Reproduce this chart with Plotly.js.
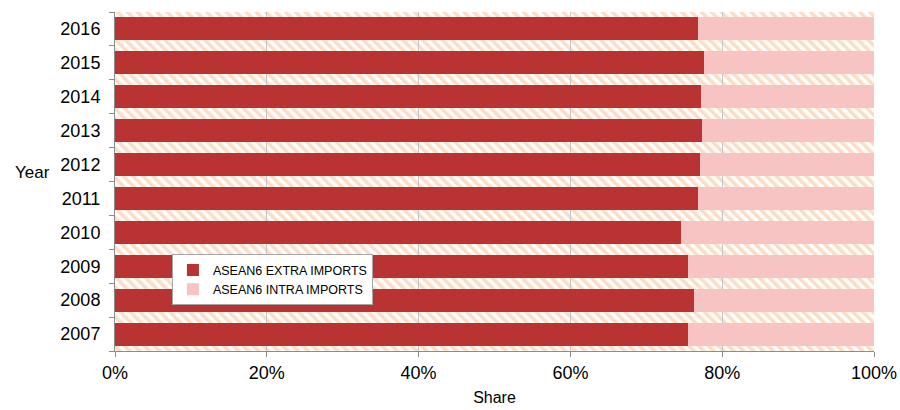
<!DOCTYPE html>
<html>
<head>
<meta charset="utf-8">
<script src="https://cdn.plot.ly/plotly-3.0.1.min.js"></script>
<style>html,body{margin:0;padding:0;background:#fff;}#chart{width:900px;height:410px;}</style>
</head>
<body>
<div id="chart"></div>
<script>
const years = ['2007','2008','2009','2010','2011','2012','2013','2014','2015','2016'];
const extraShare = [75.5, 76.3, 75.5, 74.6, 76.8, 77.1, 77.3, 77.2, 77.6, 76.8];
const intraShare = extraShare.map(v => +(100 - v).toFixed(1));
const seriesNames = ['ASEAN6 EXTRA IMPORTS', 'ASEAN6 INTRA IMPORTS'];
const xTickVals = [0, 20, 40, 60, 80, 100];
const xTickText = ['0%', '20%', '40%', '60%', '80%', '100%'];

const font = 'Arial, "Liberation Sans", sans-serif';

// decorative hatched plot-area background
const hatchSvg = '<svg xmlns="http://www.w3.org/2000/svg" width="759" height="339">' +
  '<defs><pattern id="p" width="7" height="7" patternUnits="userSpaceOnUse" patternTransform="rotate(-45)">' +
  '<rect width="7" height="7" fill="#ffffff"/><rect width="3.5" height="7" fill="#fcdcc4"/></pattern></defs>' +
  '<rect width="759" height="339" fill="url(#p)"/></svg>';
const hatchUri = 'data:image/svg+xml;charset=utf-8,' + encodeURIComponent(hatchSvg);

const traces = [
  {type:'bar', orientation:'h', name: seriesNames[0], y: years, x: extraShare,
   marker:{color:'#b83331', line:{width:0}}, hoverinfo:'x+y'},
  {type:'bar', orientation:'h', name: seriesNames[1], y: years, x: intraShare,
   marker:{color:'#f7c3c3', line:{width:0}}, hoverinfo:'x+y'}
];
const layout = {
  width:900, height:410,
  margin:{l:115, r:26, t:12, b:59},
  barmode:'stack', bargap:0.32,
  paper_bgcolor:'#ffffff', plot_bgcolor:'rgba(0,0,0,0)',
  font:{family:font, size:18, color:'#000'},
  showlegend:true,
  legend:{x:0.075, y:0.285, xanchor:'left', yanchor:'top', bgcolor:'#ffffff',
          bordercolor:'#a6a6a6', borderwidth:1, font:{family:font, size:12.5, color:'#000'},
          traceorder:'normal', tracegroupgap:0, itemwidth:30},
  images:[{source:hatchUri, xref:'paper', yref:'paper', x:0, y:1, sizex:1, sizey:1,
           xanchor:'left', yanchor:'top', sizing:'stretch', layer:'below'}],
  xaxis:{range:[0,100], tickvals:xTickVals, ticktext:xTickText, showgrid:true,
         gridcolor:'#c4c4c4', gridwidth:1, zeroline:false, showline:true, linecolor:'#8c8c8c',
         ticks:'outside', ticklen:5, tickcolor:'#8c8c8c', tickfont:{size:18},
         title:{text:'Share', font:{size:16}, standoff:10}, fixedrange:true},
  yaxis:{type:'category', categoryorder:'array', categoryarray:years, showgrid:false,
         showline:true, linecolor:'#8c8c8c', ticks:'outside', ticklen:5, tickcolor:'#8c8c8c',
         tickson:'boundaries', tickfont:{size:18}, ticklabelstandoff:10, fixedrange:true},
  annotations:[{text:'Year', xref:'paper', yref:'paper', x:-0.109, y:0.528,
                xanchor:'center', yanchor:'middle', showarrow:false, font:{size:17, family:font}}]
};
Plotly.newPlot('chart', traces, layout, {displayModeBar:false, staticPlot:true});
</script>
</body>
</html>
